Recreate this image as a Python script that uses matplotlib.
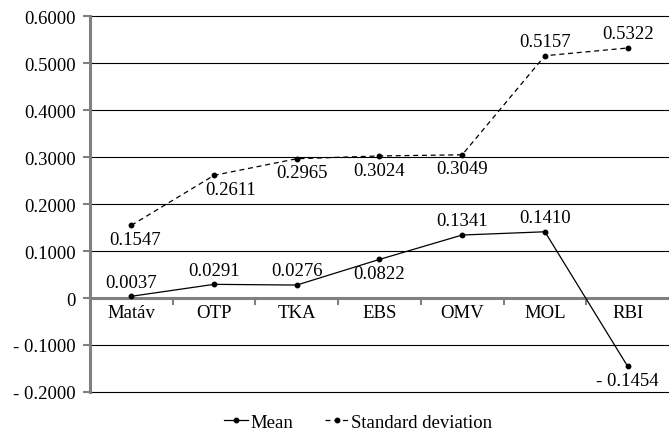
import matplotlib.pyplot as plt
import numpy as np

plt.rcParams['font.family'] = ['Liberation Serif', 'DejaVu Serif']
plt.rcParams['font.size'] = 13.5

companies = ['Matáv', 'OTP', 'TKA', 'EBS', 'OMV', 'MOL', 'RBI']
mean_vals = [0.0037, 0.0291, 0.0276, 0.0822, 0.1341, 0.1410, -0.1454]
std_vals = [0.1547, 0.2611, 0.2965, 0.3024, 0.3049, 0.5157, 0.5322]
# label placement above (+1) or below (-1) the point
mean_pos = [1, 1, 1, -1, 1, 1, -1]
std_pos = [-1, -1, -1, -1, -1, 1, 1]
std_dx = [3, 12, 4, 0, 0, 0, 0]
yticks = [-0.2, -0.1, 0, 0.1, 0.2, 0.3, 0.4, 0.5, 0.6]


def fmt(v):
    if v == 0:
        return '0'
    if v < 0:
        return f'- {abs(v):.4f}'
    return f'{v:.4f}'


fig = plt.figure(figsize=(6.69, 4.35), dpi=100)
ax = fig.add_axes([0.1345, 0.0966, 0.8655, 0.864])

x = np.arange(len(companies))
ax.plot(x, mean_vals, color='black', lw=0.9, marker='o', ms=3.2, label='Mean', zorder=3)
ax.plot(x, std_vals, color='black', lw=0.9, ls=(0, (4, 3)), marker='o', ms=3.2,
        label='Standard deviation', zorder=3)

for xi, v, p in zip(x, mean_vals, mean_pos):
    ax.annotate(fmt(v), (xi, v), xytext=(0, 4 * p), textcoords='offset points',
                ha='center', va='bottom' if p > 0 else 'top')
for xi, v, p, dx in zip(x, std_vals, std_pos, std_dx):
    ax.annotate(fmt(v), (xi, v), xytext=(dx, 4 * p), textcoords='offset points',
                ha='center', va='bottom' if p > 0 else 'top')

ax.set_xlim(-0.5, len(companies) - 0.5)
ax.set_ylim(-0.2, 0.6)
ax.set_yticks(yticks)
ax.set_yticklabels([fmt(t) for t in yticks])
for t in yticks:
    if t != 0:
        ax.axhline(t, color='black', lw=0.8, zorder=1, clip_on=False)
ax.axhline(0, color='#808080', lw=2.2, zorder=2)

# category labels just below the zero line
ax.set_xticks([])
for xi, c in zip(x, companies):
    ax.text(xi, -0.012, c, ha='center', va='top')
for b in np.arange(0.5, len(companies) - 0.5, 1):
    ax.plot([b, b], [0, -0.012], color='#808080', lw=1.5, zorder=2)

for s in ['top', 'right', 'bottom']:
    ax.spines[s].set_visible(False)
ax.spines['left'].set_color('#808080')
ax.spines['left'].set_linewidth(2.2)
ax.tick_params(axis='y', color='#808080', width=1.5, length=5, pad=5)

ax.legend(loc='center', bbox_to_anchor=(0.463, -0.08), ncol=2, frameon=False,
          handlelength=1.3, handletextpad=0.1, columnspacing=1.7, fontsize=13.5,
          borderpad=0, borderaxespad=0)

fig.savefig('out.png', dpi=100)
